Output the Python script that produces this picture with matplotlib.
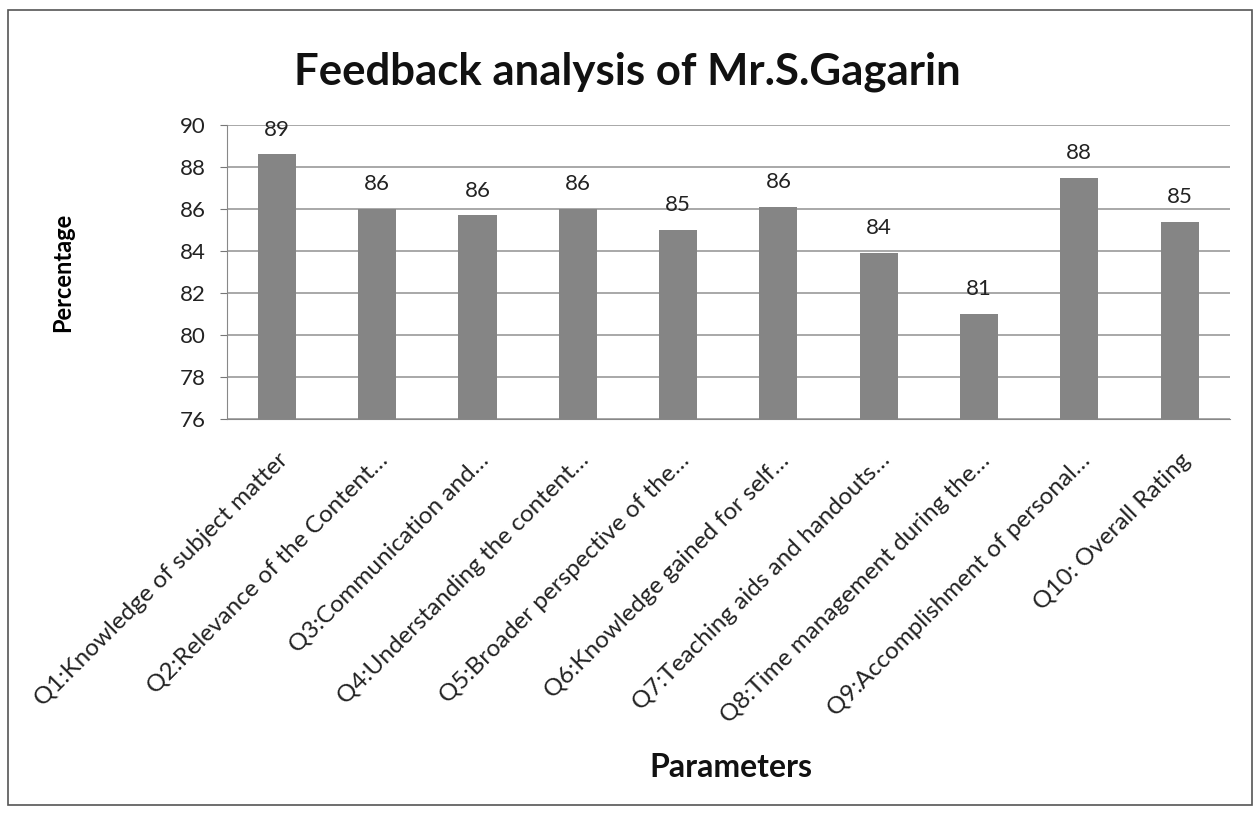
import numpy as np
import matplotlib.pyplot as plt
from matplotlib.patches import Rectangle

# data
questions = ["Q1:Knowledge of subject matter",
             "Q2:Relevance of the Content…",
             "Q3:Communication and…",
             "Q4:Understanding the content…",
             "Q5:Broader perspective of the…",
             "Q6:Knowledge gained for self…",
             "Q7:Teaching aids and handouts…",
             "Q8:Time management during the…",
             "Q9:Accomplishment of personal…",
             "Q10: Overall Rating"]
percentages = [88.6, 86.0, 85.7, 86.0, 85.0, 86.1, 83.9, 81.0, 87.5, 85.4]
y_ticks = [76, 78, 80, 82, 84, 86, 88, 90]

plt.rcParams['font.family'] = ['Lato', 'DejaVu Sans']

fig = plt.figure(figsize=(12.6, 8.16), dpi=100)
ax = fig.add_axes([0.180, 0.4865, 0.796, 0.3603])

x = np.arange(len(questions))
bars = ax.bar(x, percentages, width=0.38, color='#858585', zorder=3)

# data labels
for xi, v in zip(x, percentages):
    ax.text(xi, v + 0.7, "%d" % round(v), ha='center', va='bottom',
            fontsize=16, color='#222222')

ax.set_ylim(76, 90)
ax.set_xlim(-0.5, len(questions) - 0.5)
ax.set_yticks(y_ticks)
ax.set_yticklabels([str(t) for t in y_ticks], fontsize=16, color='#222222')
ax.set_xticks(x)
ax.set_xticklabels(questions, rotation=45, ha='right', rotation_mode='anchor',
                   fontsize=17.5, color='#222222')
ax.tick_params(axis='x', length=0, pad=22)
ax.tick_params(axis='y', length=5, pad=10, color='#777777')

ax.grid(axis='y', color='#999999', linewidth=1.2, zorder=0)
for side in ['top', 'right']:
    ax.spines[side].set_visible(False)
ax.spines['left'].set_color('#888888')
ax.spines['bottom'].set_color('#888888')

ax.set_ylabel("Percentage", fontsize=17, fontweight='bold')
ax.yaxis.set_label_coords(-0.152, 0.5)

fig.text(0.498, 0.912, "Feedback analysis of Mr.S.Gagarin", ha='center', va='center',
         fontsize=31.5, fontweight='bold', color='#111111')
fig.text(0.580, 0.059, "Parameters", ha='center', va='center',
         fontsize=23, fontweight='bold', color='#111111')

# chart area border
fig.patches.append(Rectangle((0.006, 0.013), 0.988, 0.975, transform=fig.transFigure,
                             fill=False, edgecolor='#555555', linewidth=1.2))

fig.savefig("out.png", dpi=100)
